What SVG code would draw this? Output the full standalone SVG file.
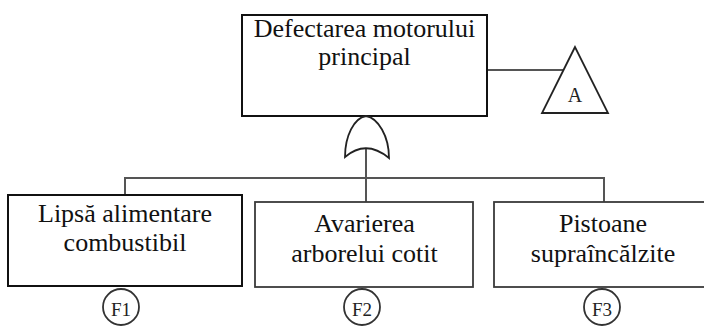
<svg xmlns="http://www.w3.org/2000/svg" width="704" height="329" viewBox="0 0 704 329">
<style>
.bg{fill:#fff}
.box{fill:#fff;stroke:#111;stroke-width:2}
.box2{fill:#fff;stroke:#3a3a3a;stroke-width:1.8}
.lbl{font-size:26px;fill:#111;text-anchor:middle}
.ref{font-size:19px;fill:#222;text-anchor:middle}
.conn{fill:none;stroke:#555;stroke-width:2}
.circ{fill:#fff;stroke:#333;stroke-width:1.8}
.gate{fill:#fff;stroke:#222;stroke-width:1.8}
</style>
<rect class="bg" x="0" y="0" width="704" height="329"/>
<g id="connectors">
<path class="conn" d="M487,70 H563"/>
<path class="conn" d="M366,148 V202"/>
<path class="conn" d="M125,195 V178 H604 V202"/>
</g>
<g font-family="Liberation Serif, DejaVu Serif, serif">
<g id="top">
<rect class="box" x="242" y="15" width="245" height="101"/>
<text class="lbl" x="364.5" y="37">Defectarea motorului</text>
<text class="lbl" x="364.5" y="65">principal</text>
</g>
<g id="or-gate">
<path class="gate" d="M345,157 C345,136 354,118 366,116 C378,118 389,136 389,158 Q366,139 345,157 Z"/>
</g>
<g id="transfer-A">
<polygon class="gate" points="575,47 542,113 608,113"/>
<text class="ref" x="575" y="102" style="font-size:20px">A</text>
</g>
<g id="F1">
<rect class="box" x="8" y="195" width="234" height="91"/>
<text class="lbl" x="125" y="222">Lipsă alimentare</text>
<text class="lbl" x="125" y="251">combustibil</text>
<circle class="circ" cx="121" cy="307" r="18"/>
<text class="ref" x="121" y="316">F1</text>
</g>
<g id="F2">
<rect class="box2" x="255" y="202" width="218" height="85"/>
<text class="lbl" x="364.5" y="232">Avarierea</text>
<text class="lbl" x="364.5" y="262">arborelui cotit</text>
<circle class="circ" cx="362" cy="307" r="18"/>
<text class="ref" x="362" y="316">F2</text>
</g>
<g id="F3">
<rect class="box2" x="494" y="202" width="220" height="85"/>
<text class="lbl" x="603" y="232">Pistoane</text>
<text class="lbl" x="603" y="262">supraîncălzite</text>
<circle class="circ" cx="602" cy="307" r="18"/>
<text class="ref" x="602" y="316">F3</text>
</g>
</g>
</svg>
